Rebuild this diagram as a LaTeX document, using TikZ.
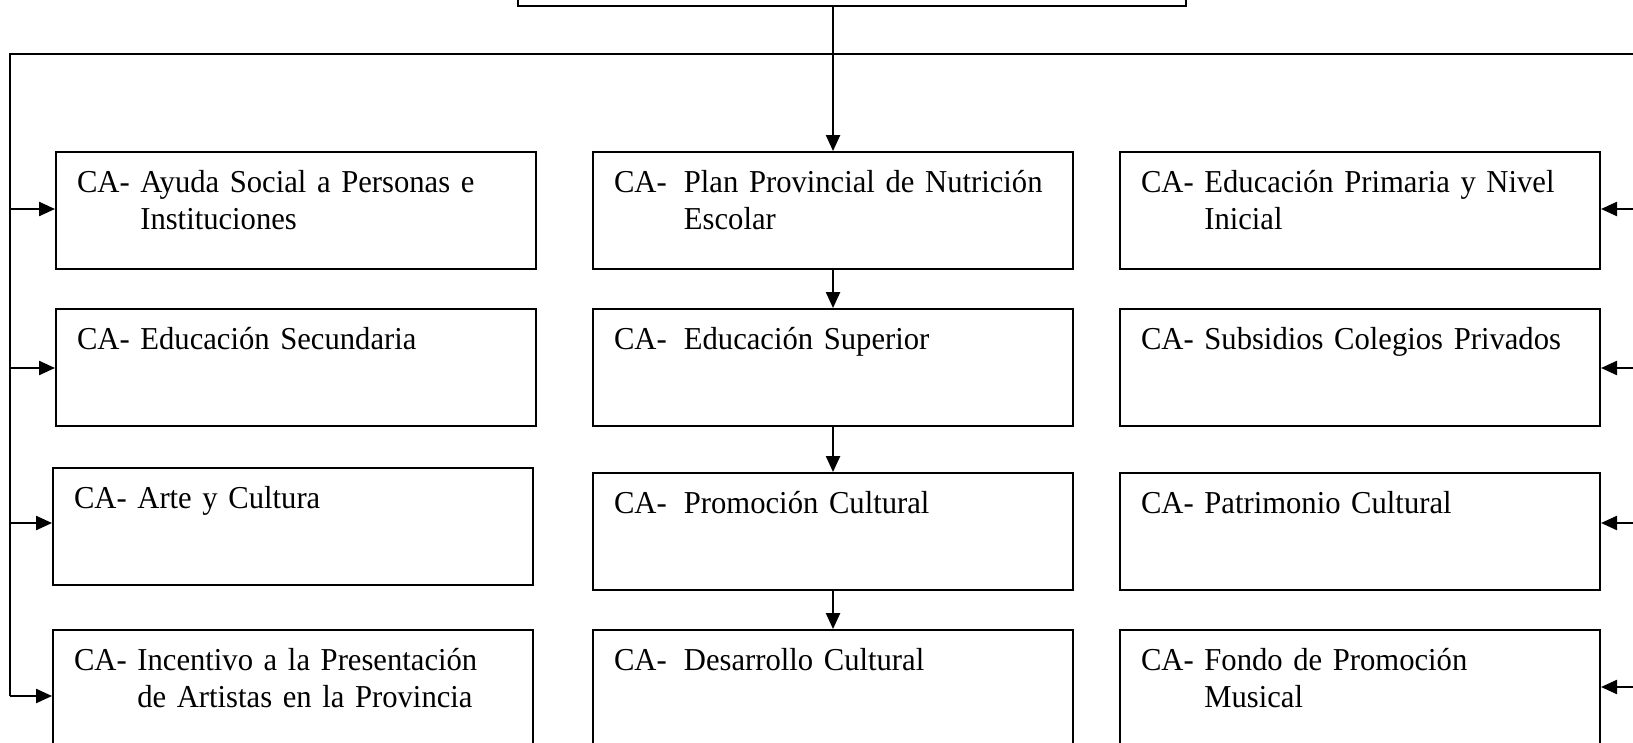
\documentclass[tikz,border=0pt]{standalone}
\usepackage{fontspec}
\setmainfont{Liberation Serif}[FakeStretch=0.96]
\usepackage{tikz}
\usetikzlibrary{arrows.meta}
\newcommand{\catab}{\makebox[26.3pt][l]{CA-}}
\newcommand{\cahang}{\\\hspace*{23.8pt}}
\newcommand{\catabhang}{\\\hspace*{26.3pt}}
\tikzset{
    ca-box/.style = {draw, line width=0.75pt, rectangle, anchor=north west, inner xsep=7.9pt, inner ysep=0pt,
        text width=164.7pt, align=left, text height=15.4pt, text depth=28.6pt,
        font=\fontsize{12}{13.8}\selectfont},
    last-box/.style = {ca-box, text depth=34pt},
    top-box/.style = {draw, line width=0.75pt, rectangle, anchor=south, minimum width=251.5pt, minimum height=30pt},
    ca-arrow/.style = {line width=0.75pt, -{Triangle[length=6pt,width=5.3pt]}},
}
\begin{document}
\begin{tikzpicture}[x=0.376pt, y=-0.376pt]
\clip (0,0) rectangle (1633,743);
\node[top-box] (top) at (852,7) {};

\node[ca-box] (ayuda) at (55,151) {CA- Ayuda Social a Personas e\cahang Instituciones};
\node[ca-box] (secundaria) at (55,308) {CA- Educación Secundaria};
\node[ca-box] (arte) at (52,467) {CA- Arte y Cultura};
\node[last-box] (incentivo) at (52,629) {CA- Incentivo a la Presentación\cahang de Artistas en la Provincia};

\node[ca-box] (nutricion) at (592,151) {\catab Plan Provincial de Nutrición\catabhang Escolar};
\node[ca-box] (superior) at (592,308) {\catab Educación Superior};
\node[ca-box] (promocion) at (592,472) {\catab Promoción Cultural};
\node[last-box] (desarrollo) at (592,629) {\catab Desarrollo Cultural};

\node[ca-box] (primaria) at (1119,151) {CA- Educación Primaria y Nivel\cahang Inicial};
\node[ca-box] (subsidios) at (1119,308) {CA- Subsidios Colegios Privados};
\node[ca-box] (patrimonio) at (1119,472) {CA- Patrimonio Cultural};
\node[last-box] (fondo) at (1119,629) {CA- Fondo de Promoción\cahang Musical};

\coordinate (ltrunk) at (10,54);
\coordinate (rtrunk) at (1660,54);
\coordinate (lend) at (10,696);
\coordinate (rend) at (1660,687);
\draw[line width=0.75pt] (lend) -- (ltrunk) -- (rtrunk) -- (rend);

\draw[ca-arrow] (top.south -| nutricion.north) -- (nutricion.north);
\draw[ca-arrow] (nutricion.south) -- (superior.north);
\draw[ca-arrow] (superior.south) -- (promocion.north);
\draw[ca-arrow] (promocion.south) -- (desarrollo.north);

\foreach \n/\y in {ayuda/209, secundaria/368, arte/523, incentivo/696}
    \draw[ca-arrow] (ltrunk |- 0,\y) -- (\n.west |- 0,\y);
\foreach \n/\y in {primaria/209, subsidios/368, patrimonio/523, fondo/687}
    \draw[ca-arrow] (rtrunk |- 0,\y) -- (\n.east |- 0,\y);
\end{tikzpicture}
\end{document}
